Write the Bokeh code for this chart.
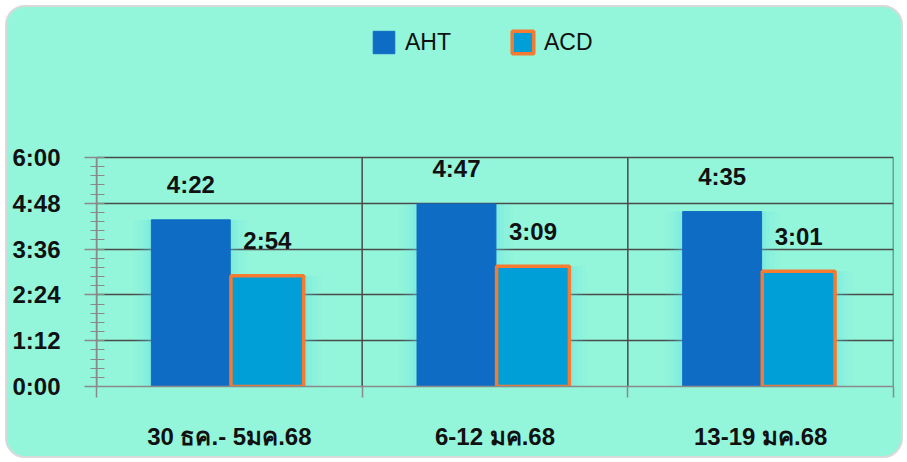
from bokeh.plotting import figure
from bokeh.models import FixedTicker, Legend, LegendItem, ColumnDataSource
from bokeh.core.properties import value
from bokeh.embed import file_html
from bokeh.resources import INLINE

categories = ["30 ธค.- 5มค.68", "6-12 มค.68", "13-19 มค.68"]
aht = ["4:22", "4:47", "4:35"]
acd = ["2:54", "3:09", "3:01"]
y_ticks = ["0:00", "1:12", "2:24", "3:36", "4:48", "6:00"]


def to_sec(s):
    m, ss = s.split(":")
    return int(m) * 60 + int(ss)


xs = list(range(len(categories)))
aht_v = [to_sec(s) for s in aht]
acd_v = [to_sec(s) for s in acd]
tick_v = [to_sec(s) for s in y_ticks]
bounds_x = [c - 0.5 for c in xs] + [xs[-1] + 0.5]

BG = "#93f6da"
AHT_C = "#0f6cc4"
ACD_C = "#019fd8"
ORANGE = "#f67a30"
GRID = "#4a4a4a"
AX = "#8a8a8a"
FONT = "Liberation Sans"

W, H = 898, 453          # canvas size (2px border added outside)
FL, FR, FT, FB = 89, 886, 150, 379   # wanted frame (data area) in canvas px

ymax = tick_v[-1]
y_end = ymax * FB / (FB - FT)   # frame extends to canvas top so legend fits inside

p = figure(width=W, height=H, x_range=(-0.5, len(categories) - 0.5),
           y_range=(0, y_end), output_backend="svg", toolbar_location=None,
           min_border_left=FL, min_border_right=W - FR, min_border_top=0,
           min_border_bottom=H - FB)
p.styles = {"border": "2px solid #d9d9d9", "border-radius": "20px",
            "overflow": "hidden", "margin-left": "5px", "margin-top": "5px",
            "background-color": BG}
p.background_fill_alpha = 0
p.border_fill_alpha = 0
p.outline_line_color = None

ux = len(categories) / (FR - FL)

aht_off, aht_w = -0.145, 0.297
acd_off, acd_w = 0.143, 0.274
aht_x = [c + aht_off for c in xs]
acd_x = [c + acd_off for c in xs]

src_aht = ColumnDataSource(dict(x=aht_x, top=aht_v, lab=aht))
src_acd = ColumnDataSource(dict(x=acd_x, top=acd_v, lab=acd))

# vertical separators between categories (grid-like)
p.segment(x0=bounds_x, y0=[0] * len(bounds_x), x1=bounds_x, y1=[ymax] * len(bounds_x),
          line_color=GRID, line_width=1.5)

# glow
for g, a in [(18, 0.06), (13, 0.09), (8, 0.12), (4, 0.16)]:
    p.vbar(x="x", top="top", width=aht_w + 2 * g * ux, bottom=0,
           source=src_aht, fill_color="#5fdfe8", fill_alpha=a, line_color=None)
    p.vbar(x="x", top="top", width=acd_w + 2 * g * ux, bottom=0,
           source=src_acd, fill_color="#5fdfe8", fill_alpha=a, line_color=None)

r_aht = p.vbar(x="x", top="top", width=aht_w, bottom=0, source=src_aht,
               fill_color=AHT_C, line_color=AHT_C, line_width=1)
r_acd = p.vbar(x="x", top="top", width=acd_w, bottom=0, source=src_acd,
               fill_color=ACD_C, line_color=ORANGE, line_width=3.5)

for src in (src_aht, src_acd):
    p.text(x="x", y="top", text="lab", source=src, text_align="center",
           text_baseline="middle", y_offset=-35, text_font=value(FONT),
           text_font_style="bold", text_font_size="24px", text_color="#111111")

# axes
yax = p.yaxis[0]
yax.bounds = (0, ymax)
yax.ticker = FixedTicker(ticks=tick_v,
                         minor_ticks=[i * (tick_v[1] / 5) for i in range(5 * (len(tick_v) - 1) + 1)])
yax.major_label_overrides = {v: s for v, s in zip(tick_v, y_ticks)}
yax.major_label_text_font = FONT
yax.major_label_text_font_style = "bold"
yax.major_label_text_font_size = "24px"
yax.major_label_text_color = "#111111"
yax.major_label_standoff = 24
yax.major_tick_out = 12
yax.major_tick_in = 0
yax.minor_tick_out = 6
yax.minor_tick_in = 8
yax.axis_line_color = AX
yax.major_tick_line_color = AX
yax.minor_tick_line_color = AX
yax.axis_line_width = 1.5
yax.major_tick_line_width = 1.5

xax = p.xaxis[0]
xax.ticker = FixedTicker(ticks=xs, minor_ticks=bounds_x)
xax.major_label_overrides = {i: c for i, c in zip(xs, categories)}
xax.major_label_text_font = FONT
xax.major_label_text_font_style = "bold"
xax.major_label_text_font_size = "24px"
xax.major_label_text_color = "#111111"
xax.major_label_standoff = 25
xax.major_tick_out = 0
xax.major_tick_in = 0
xax.minor_tick_out = 11
xax.minor_tick_in = 0
xax.axis_line_color = AX
xax.minor_tick_line_color = AX
xax.axis_line_width = 1.5
xax.minor_tick_line_width = 1.5

p.ygrid.ticker = FixedTicker(ticks=tick_v[1:])
p.ygrid.grid_line_color = GRID
p.ygrid.grid_line_width = 1.5
p.xgrid.visible = False

legend = Legend(items=[LegendItem(label="AHT", renderers=[r_aht]),
                       LegendItem(label="ACD", renderers=[r_acd])],
                orientation="horizontal", location=(274, 330),
                glyph_width=27, glyph_height=28, label_standoff=8, spacing=58,
                padding=0, margin=0, border_line_alpha=0, background_fill_alpha=0,
                label_text_font=FONT, label_text_font_size="23px",
                label_text_color="#111111")
p.add_layout(legend, "center")

open("out.html", "w").write(file_html(p, INLINE))
